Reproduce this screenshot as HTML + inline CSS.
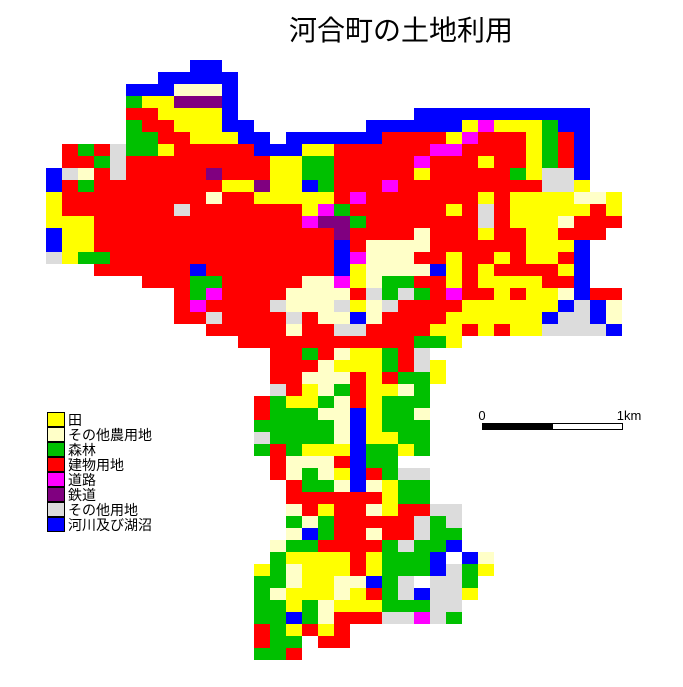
<!DOCTYPE html>
<html><head><meta charset="utf-8"><style>
html,body{margin:0;padding:0;background:#fff;}
svg{display:block;}
text{font-family:"Liberation Sans","Noto Sans CJK JP",sans-serif;fill:#000;}
</style></head><body>
<svg id="chart" width="683" height="687" viewBox="0 0 683 687" xmlns="http://www.w3.org/2000/svg">
<rect x="0" y="0" width="683" height="687" fill="#fff"/>
<text x="401" y="40" font-size="28" text-anchor="middle">河合町の土地利用</text>
<g id="map"></g>
<g id="legend"></g>
<g>
<text x="482" y="420" font-size="13" text-anchor="middle">0</text>
<text x="629" y="420" font-size="13" text-anchor="middle">1km</text>
<rect x="482.5" y="423.5" width="70" height="6" fill="#000" stroke="#000"/>
<rect x="552.5" y="423.5" width="70" height="6" fill="#fff" stroke="#000"/>
</g>
</svg>
<script>
// Land-use grid data: each row has a starting column and a string of category codes ('.' = no data)
const rowStarts = [9,7,5,5,5,5,5,1,1,0,0,0,0,0,0,0,0,3,6,8,8,8,10,12,14,14,14,14,13,13,13,13,13,14,14,15,15,15,15,15,14,14,13,13,13,13,13,13,13,13];
const rowCodes = [
"BB",
"BBBBB",
"BBBLLLB",
"GYYPPPB",
"RRYYYYB...........BBBBBBBBBBB",
"GRRYYYBB.......BBBBBBYMYYYGBB",
"GGRRYYYBB.BBBBBBRRRRYMRRRYGRB",
"RGRSGGYRRRRRBBBYYRRRRRRMMRRRRYGRB",
"RRGSRRRRRRRRRYYGGRRRRRMRRRYRRYGRB",
"BSLRSRRRRRPRRRYYGGRRRRRYRRRRRGYSSB",
"BRGRRRRRRRRYYPYYBGRRRMRRRRRRRRRSSY",
"YRRRRRRRRRLRRYYYYYRMRRRRRRRYRYYYYLLY",
"YRRRRRRRSRRRRRRRYMGRRRRRRYRSRYYYYYRY",
"YYYRRRRRRRRRRRRRMPPGRRRRRRRSRYYYLRRR",
"BYYRRRRRRRRRRRRRRRPRRRRLRRRYRRYYRRR",
"BYYRRRRRRRRRRRRRRRBRLLLLRRRRRRYYYB",
"SYGGRRRRRRRRRRRRRRBMLLLRRYRRYRYYRB",
"RRRRRRBRRRRRRRRBYLLLLBYRYRRRRYB",
"RRRGGRRRRRLLMYLGGRRYRYYYYRRB",
"RGMRRRRLLLLRSGSGRMRRYRYYLBRR",
"RMRRRRSLLLSYLSRRRRYYYYYYBSBL",
"RRSRRRRSRLLBLRRRRYYYYYYBSSBL",
"RRRRRLRRSSRRRRYYRYRYYSSSSB",
"RRRRRRRRRRRGGY",
"RRGRLYYGRS",
"RRRLYYYGRSY",
"RRLLLRYRGGY",
"SRYLGRYYLG",
"RGYYGLRYGGG",
"RGGGLLBYGGL",
"GGGGGLBYGGG",
"SGGGGLBYYGG",
"GRGYYYBGGYG",
"RLLLRBGG",
"RLGLYBRGSS",
"RGGLBLYGG",
"RRRRRRYGG",
"LRYRRLYRRSS",
"GLGRRRRRSGS",
"LBGRRLRRSGG",
"LGGRRRRGSGGB",
"GYYYYRYGGGB.BL",
"YGLYYYRYGGGBSGY",
"GGLYYLLBGS.SSG",
"GLYYYLYRGSBSSY",
"GGYGLYYYGGGSS",
"GGBGLRRRSSMSG",
"RGYRYR",
"RGG.RR",
"GGR"
];
const categoryCodes = ["Y","L","G","R","M","P","S","B"];
const categoryLabels = ["田","その他農用地","森林","建物用地","道路","鉄道","その他用地","河川及び湖沼"];
const categoryNames = ["paddy","other-farmland","forest","building-land","road","railway","other-land","rivers-lakes"];
const categoryColors = ["#ffff00","#ffffc8","#00c000","#ff0000","#ff00ff","#800080","#dcdcdc","#0000ff"];

const NS = "http://www.w3.org/2000/svg";
const cellW = 16, cellH = 12, originX = 46, originY = 60;
function xScale(col){ return originX + col * cellW; }
function yScale(row){ return originY + row * cellH; }

const map = document.getElementById("map");
rowCodes.forEach(function(codes, r){
  for (let i = 0; i < codes.length; i++){
    const k = categoryCodes.indexOf(codes[i]);
    if (k < 0) continue;
    const c = rowStarts[r] + i;
    const rect = document.createElementNS(NS, "rect");
    rect.setAttribute("x", xScale(c));
    rect.setAttribute("y", yScale(r));
    rect.setAttribute("width", cellW);
    rect.setAttribute("height", cellH);
    rect.setAttribute("fill", categoryColors[k]);
    
    
    map.appendChild(rect);
  }
});

const legend = document.getElementById("legend");
categoryLabels.forEach(function(label, i){
  const y = 412 + i * 15;
  const sw = document.createElementNS(NS, "rect");
  sw.setAttribute("x", 47.5);
  sw.setAttribute("y", y + 0.5);
  sw.setAttribute("width", 17);
  sw.setAttribute("height", 14);
  sw.setAttribute("fill", categoryColors[i]);
  sw.setAttribute("stroke", "#000");
  
  
  legend.appendChild(sw);
  const t = document.createElementNS(NS, "text");
  t.setAttribute("x", 68);
  t.setAttribute("y", y + 13);
  t.setAttribute("font-size", "14");
  t.textContent = label;
  
  
  legend.appendChild(t);
});
</script>
</body></html>
